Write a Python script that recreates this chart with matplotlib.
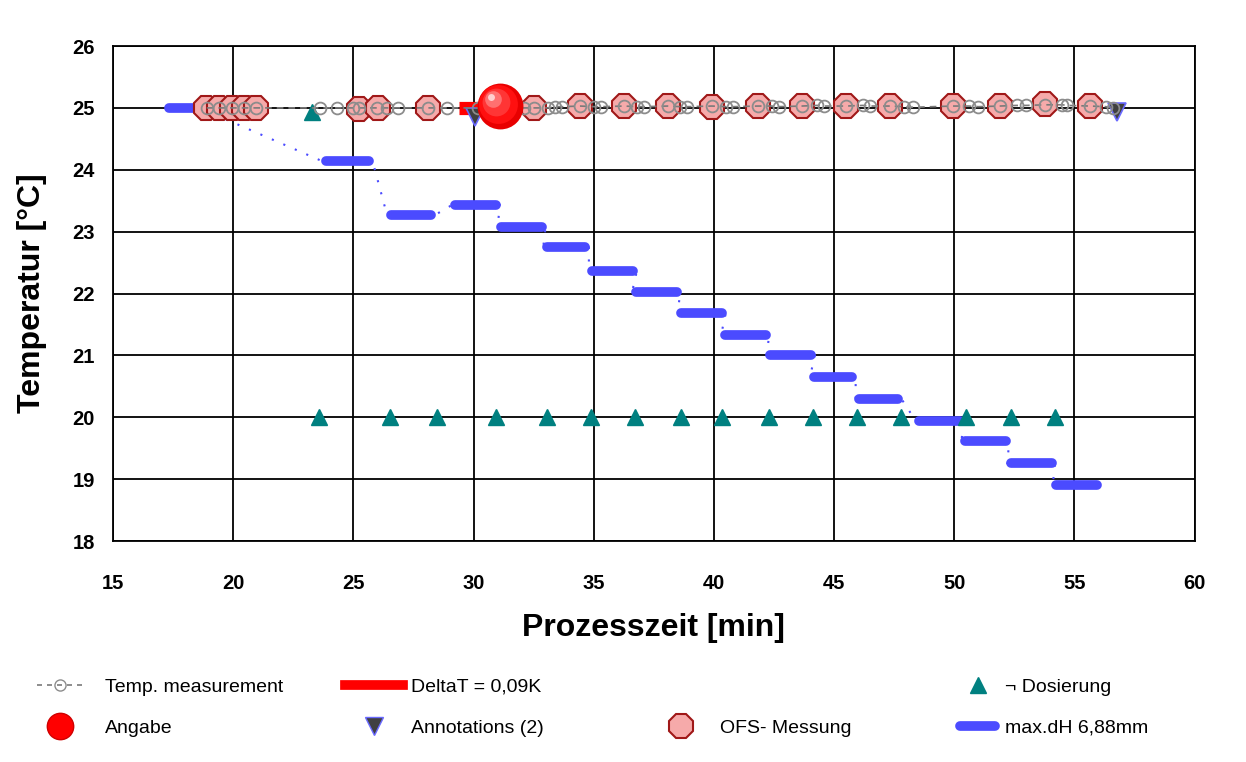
import matplotlib
matplotlib.use("Agg")
import matplotlib.pyplot as plt
import matplotlib.transforms as mtransforms
from matplotlib.lines import Line2D

plt.rcParams['font.family'] = ['Liberation Sans', 'DejaVu Sans']

# --- data ---
temp_x = [18.9, 19.4, 19.95, 20.45, 20.95, 23.6, 24.3, 25.0, 25.23, 26.0, 26.4, 26.85,
          28.1, 28.9, 30.2, 30.8, 31.3, 32.1, 32.5, 33.1, 33.4, 33.7, 34.43, 35.0, 35.3,
          36.26, 36.8, 37.1, 38.09, 38.6, 38.9, 39.92, 40.5, 40.8, 41.83, 42.4, 42.7,
          43.66, 44.3, 44.6, 45.49, 46.2, 46.5, 47.32, 47.9, 48.3, 49.94, 50.6, 51.0,
          51.9, 52.6, 53.0, 53.77, 54.5, 54.7, 55.64, 56.3, 56.6]
temp_y = [25.0, 25.0, 25.0, 25.0, 25.0, 25.0, 25.0, 25.0, 25.0, 25.0, 25.0, 25.0,
          25.0, 25.0, 25.0, 25.0, 25.0, 25.0, 25.0, 25.0, 25.02, 25.02, 25.03, 25.02, 25.02,
          25.03, 25.02, 25.02, 25.03, 25.02, 25.02, 25.03, 25.02, 25.02, 25.03, 25.03, 25.02,
          25.03, 25.04, 25.03, 25.03, 25.04, 25.03, 25.03, 25.02, 25.01, 25.03, 25.03, 25.02,
          25.03, 25.04, 25.04, 25.05, 25.05, 25.04, 25.03, 25.02, 25.0]

ofs_x = [18.87, 19.41, 19.95, 20.45, 20.95, 25.23, 26.02, 28.1, 32.51, 34.43, 36.26,
         38.09, 39.92, 41.83, 43.66, 45.49, 47.32, 49.94, 51.9, 53.77, 55.64]
ofs_y = [25.0, 25.0, 25.0, 25.0, 25.0, 24.99, 25.0, 25.0, 25.0, 25.03, 25.03,
         25.03, 25.02, 25.03, 25.03, 25.03, 25.03, 25.03, 25.03, 25.06, 25.03]

dos_x = [23.3, 23.57, 26.52, 28.48, 30.93, 33.05, 34.88, 36.71, 38.63, 40.33, 42.29, 44.12,
         45.95, 47.78, 50.48, 52.35, 54.18]
dos_y = [24.93, 20.0, 20.0, 20.0, 20.0, 20.0, 20.0, 20.0, 20.0, 20.0, 20.0, 20.0,
         20.0, 20.0, 20.0, 20.0, 20.0]

deltat_x = [29.4, 31.0]
deltat_y = [25.0, 25.0]

angabe_x = [31.1]
angabe_y = [25.03]

annot_x = [30.05, 56.76]
annot_y = [24.85, 24.93]

bar_start = [17.2, 23.7, 26.4, 29.1, 31.0, 32.9, 34.8, 36.6, 38.5, 40.3, 42.2, 44.0,
             45.9, 48.4, 50.3, 52.2, 54.1]
bar_end = [18.6, 25.8, 28.4, 31.1, 33.0, 34.8, 36.8, 38.6, 40.5, 42.3, 44.2, 45.9,
           47.8, 50.4, 52.3, 54.2, 56.1]
bar_level = [25.0, 24.14, 23.27, 23.43, 23.08, 22.75, 22.37, 22.03, 21.69, 21.33, 21.0,
             20.65, 20.30, 19.94, 19.62, 19.26, 18.91]

x_ticks = [15, 20, 25, 30, 35, 40, 45, 50, 55, 60]
y_ticks = [18, 19, 20, 21, 22, 23, 24, 25, 26]

blue = '#4b4bff'
teal = '#008080'
pink = '#f6aaaa'
dark_red = '#a01818'

fig = plt.figure(figsize=(12.46, 7.62), dpi=100)
ax = fig.add_axes([0.0907, 0.29, 0.868, 0.6496])

# blue step line: dotted connectors + thick bars
conn_x, conn_y = [], []
for s, e, lv in zip(bar_start, bar_end, bar_level):
    conn_x += [s, e]
    conn_y += [lv, lv]
ax.plot(conn_x, conn_y, color=blue, lw=1.5, ls=(0, (1, 5)), zorder=3)
ax.hlines(bar_level, [s + 0.15 for s in bar_start], [e - 0.15 for e in bar_end],
          colors=blue, lw=7, capstyle='round', zorder=3)

# Dosierung triangles
ax.plot(dos_x, dos_y, ls='none', marker='^', ms=11, color=teal, zorder=4)

# DeltaT bar
ax.plot(deltat_x, deltat_y, color='red', lw=9.5, solid_capstyle='butt', zorder=5)

# annotations
ax.plot(annot_x, annot_y, ls='none', marker='v', ms=13, mfc='#404040', mec='#6a6aff',
        mew=1.2, zorder=5)

# OFS measurement octagons
ax.plot(ofs_x, ofs_y, ls='none', marker='8', ms=18, mfc=pink, mec=dark_red, mew=1.5, zorder=6)

# temperature measurement
ax.plot(temp_x, temp_y, color='#7a7a7a', lw=1.2, ls=(0, (4, 3)), marker='o', ms=8.5,
        mfc='none', mec='#8c8c8c', mew=1.3, zorder=7)

# Angabe sphere (simple shading)
shades = [('#e80000', 33), ('#ff1010', 28), ('#ff3535', 20), ('#ff7070', 12), ('#ffd0d0', 5)]
for i, (c, s) in enumerate(shades):
    off = mtransforms.ScaledTranslation(-i * 1.6 / 72, i * 1.6 / 72, fig.dpi_scale_trans)
    ax.plot(angabe_x, angabe_y, ls='none', marker='o', ms=s, mfc=c, mec='none',
            transform=ax.transData + off, zorder=8)

ax.set_xlim(15, 60)
ax.set_ylim(18, 26)
ax.set_xticks(x_ticks)
ax.set_yticks(y_ticks)
ax.grid(True, color='black', lw=1.3)
ax.set_axisbelow(True)
for sp in ax.spines.values():
    sp.set_linewidth(1.3)
ax.tick_params(length=0, labelsize=14.5)
ax.tick_params(axis='x', pad=24)
ax.tick_params(axis='y', pad=13)
for lab in ax.get_xticklabels() + ax.get_yticklabels():
    lab.set_fontweight('bold')

ax.set_xlabel('Prozesszeit [min]', fontsize=23, fontweight='bold', labelpad=14)
ax.set_ylabel('Temperatur [°C]', fontsize=23, fontweight='bold', labelpad=18)

# legend, four columns
h_temp = Line2D([], [], color='#7a7a7a', lw=1.2, ls=(0, (3, 3)), marker='o', ms=8,
                mfc='none', mec='#8c8c8c')
h_ang = Line2D([], [], ls='none', marker='o', ms=19, mfc='red', mec='#d00000')
h_dt = Line2D([], [], color='red', lw=7)
h_ann = Line2D([], [], ls='none', marker='v', ms=13, mfc='#404040', mec='#6a6aff')
h_blank = Line2D([], [], ls='none')
h_ofs = Line2D([], [], ls='none', marker='8', ms=18, mfc=pink, mec=dark_red, mew=1.5)
h_dos = Line2D([], [], ls='none', marker='^', ms=11, color=teal)
h_dh = Line2D([], [], color=blue, lw=7, solid_capstyle='round')

cols = [([h_temp, h_ang], ['Temp. measurement', 'Angabe'], 37, 2.4, 1.1),
        ([h_dt, h_ann], ['DeltaT = 0,09K', 'Annotations (2)'], 345, 3.0, 0.4),
        ([h_blank, h_ofs], ['', 'OFS- Messung'], 662, 2.0, 1.0),
        ([h_dos, h_dh], ['¬ Dosierung', 'max.dH 6,88mm'], 960, 1.8, 0.5)]
for hs, ls_, xpx, hl, tp in cols:
    fig.legend(hs, ls_, loc='upper left', bbox_to_anchor=(xpx / 1246, 1 - 678 / 762),
               frameon=False, fontsize=14, handlelength=hl, handletextpad=tp,
               borderpad=0, borderaxespad=0, labelspacing=1.2)

fig.savefig('out.png', dpi=100)
